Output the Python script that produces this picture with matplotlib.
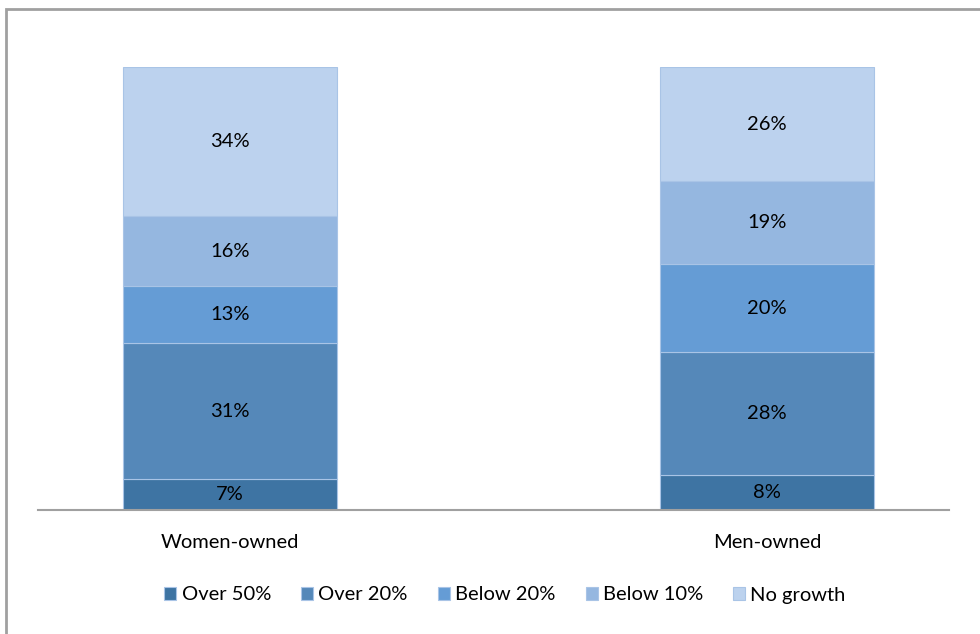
import numpy as np
import matplotlib.pyplot as plt
from matplotlib.patches import Rectangle

plt.rcParams['font.family'] = ['Lato', 'DejaVu Sans']

groups = ['Women-owned', 'Men-owned']
series = ['Over 50%', 'Over 20%', 'Below 20%', 'Below 10%', 'No growth']
values = {
    'Over 50%': [7, 8],
    'Over 20%': [31, 28],
    'Below 20%': [13, 20],
    'Below 10%': [16, 19],
    'No growth': [34, 26],
}
colors = ['#3E74A3', '#5588B9', '#659CD5', '#95B7E0', '#BCD2EE']

fig = plt.figure(figsize=(9.8, 6.34), dpi=100)
fig.patches.append(Rectangle((6 / 980, -0.01), 1.0, 1 - 9 / 634 + 0.01,
                             transform=fig.transFigure, fill=False,
                             edgecolor='#A0A0A0', linewidth=2))
ax = fig.add_axes([38 / 980, 1 - 510 / 634, 911 / 980, (510 - 67) / 634])

x = np.arange(len(groups))
bottom = np.zeros(len(groups))
for s, c in zip(series, colors):
    v = np.array(values[s])
    ax.bar(x, v, 0.399, bottom=bottom, color=c, label=s,
           edgecolor='#A9C4E6', linewidth=0.8)
    for xi, b, vi in zip(x, bottom, v):
        ax.text(xi, b + vi / 2, f'{vi}%', ha='center', va='center', fontsize=14.5)
    bottom += v

ax.set_xlim(-0.358, 1.339)
ax.set_ylim(0, 101)
ax.set_yticks([])
ax.set_xticks(x, groups, fontsize=14.5)
ax.tick_params(axis='x', length=0, pad=17)
for sp in ['top', 'left', 'right']:
    ax.spines[sp].set_visible(False)
ax.spines['bottom'].set_color('#A0A0A0')
ax.spines['bottom'].set_linewidth(1.5)

fig.legend(loc='center', bbox_to_anchor=(505 / 980, 1 - 595 / 634), ncol=5,
           frameon=False, fontsize=14.5, handlelength=0.6, handleheight=0.6,
           handletextpad=0.25, columnspacing=1.5)

fig.savefig('out.png', dpi=100)
